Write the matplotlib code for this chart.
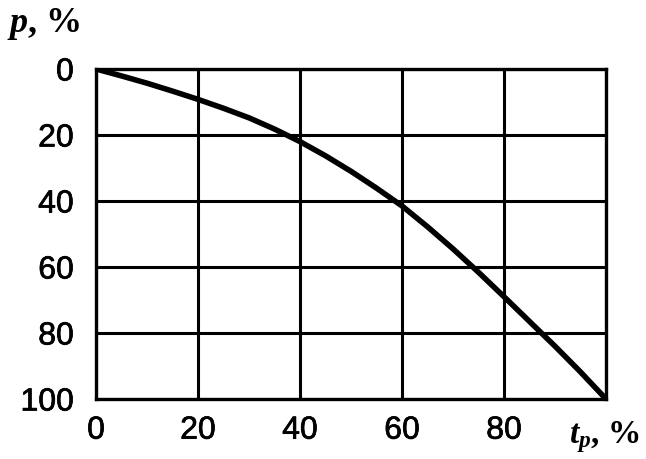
import matplotlib
matplotlib.use("Agg")
import matplotlib.pyplot as plt
import matplotlib.patheffects as pe

# Data
t_p = [0, 5, 10, 15, 20, 25, 30, 35, 40, 45, 50, 55, 60, 65, 70, 75, 80, 85, 90, 95, 100]
p = [0, 2.1, 4.3, 6.7, 9.2, 11.9, 14.8, 18.2, 22, 26.3, 31, 36.1, 41.5, 47.8, 54.5,
     61.6, 69, 76.5, 84, 91.8, 100]
x_ticks = [0, 20, 40, 60, 80]
y_ticks = [0, 20, 40, 60, 80, 100]

plt.rcParams['mathtext.fontset'] = 'custom'
plt.rcParams['mathtext.it'] = 'Liberation Serif:italic:bold'
plt.rcParams['mathtext.rm'] = 'Liberation Serif:bold'

fig = plt.figure(figsize=(6.46, 4.6), dpi=100)
ax = fig.add_axes([96/646, 60/460, 510/646, 330/460])

ax.plot(t_p, p, color='black', lw=4.0, solid_capstyle='round', zorder=3)
ax.set_xlim(0, 100)
ax.set_ylim(100, 0)
ax.set_xticks(x_ticks)
ax.set_yticks(y_ticks)
ax.grid(True, color='black', lw=2.2)
for s in ax.spines.values():
    s.set_linewidth(2.4)
    s.set_color('black')
ax.tick_params(length=0, labelsize=23, colors='black')
ax.tick_params(axis='x', pad=12)
ax.tick_params(axis='y', pad=16)
heavy = [pe.withStroke(linewidth=0.5, foreground='black')]
for lab in ax.get_xticklabels() + ax.get_yticklabels():
    lab.set_family('Liberation Sans')
    lab.set_path_effects(heavy)

fig.text(7/646, 1 - 32/460, r'$p$, %', fontsize=26, family='Liberation Serif',
         fontweight='bold', ha='left', va='baseline')
fig.text(640/646, 1 - 443/460, r'$t_p$, %', fontsize=24, family='Liberation Serif',
         fontweight='bold', ha='right', va='baseline')

fig.savefig('out.png', dpi=100)
